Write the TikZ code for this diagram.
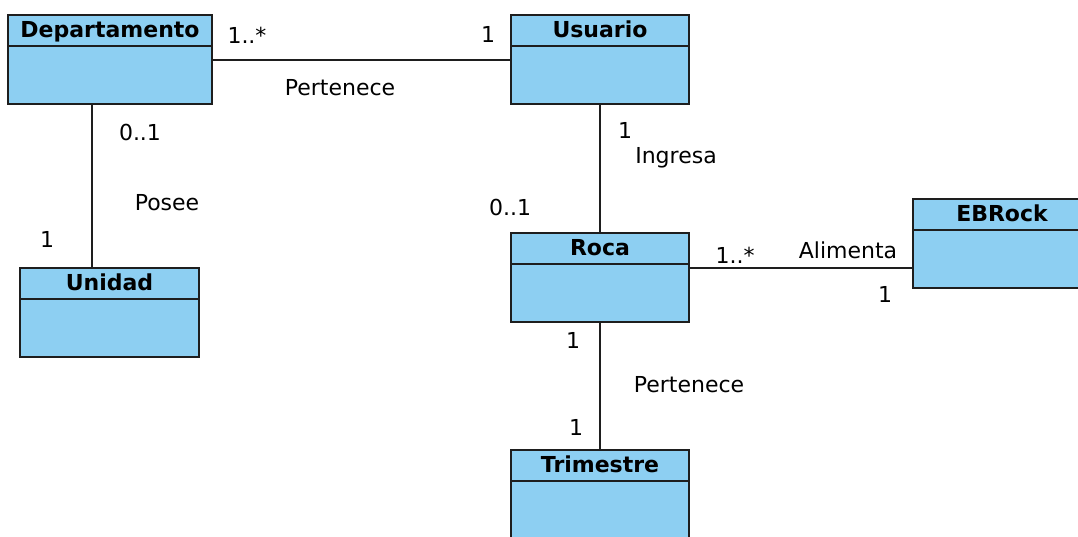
\documentclass[tikz,border=0pt]{standalone}
\usepackage{fontspec}
\setmainfont{DejaVu Sans}
\definecolor{celeste}{HTML}{8DCFF2}
\definecolor{borde}{HTML}{1E1E1E}
\tikzset{
  clase/.style={draw=borde,line width=2pt,fill=celeste,minimum width=178pt,minimum height=89pt,inner sep=0pt},
  titulo/.style={anchor=base,font=\bfseries\fontsize{22}{26}\selectfont,inner sep=0pt},
  etiqueta/.style={anchor=base,font=\fontsize{22}{26}\selectfont,inner sep=0pt},
  enlace/.style={draw=borde,line width=2pt}
}
% linea bajo el nombre de la clase
\newcommand{\divisor}[1]{\draw[enlace] ([yshift=-32pt]#1.north west) -- ([yshift=-32pt]#1.north east);}
\begin{document}
\begin{tikzpicture}[x=1pt,y=-1pt]
        \useasboundingbox (0,0) rectangle (1078,536);
        \clip (0,0) rectangle (1078,536);
        % clases
        \node[clase,minimum width=204pt] (departamento) at (110,59.5) {};
        \node[clase] (usuario) at (600,59.5) {};
        \node[clase,minimum width=179pt] (unidad) at (109.5,312.5) {};
        \node[clase] (roca) at (600,277.5) {};
        \node[clase] (ebrock) at (1002,243.5) {};
        \node[clase] (trimestre) at (600,494.5) {};
        \foreach \c in {departamento,usuario,unidad,roca,ebrock,trimestre} {\divisor{\c}}
        \node[titulo] (tdepartamento) at ([yshift=-23.5pt]departamento.north) {Departamento};
        \node[titulo] (tusuario) at ([yshift=-23.5pt]usuario.north) {Usuario};
        \node[titulo] (tunidad) at ([yshift=-23.5pt]unidad.north) {Unidad};
        \node[titulo] (troca) at ([yshift=-23.5pt]roca.north) {Roca};
        \node[titulo] (tebrock) at ([yshift=-23.5pt]ebrock.north) {EBRock};
        \node[titulo] (ttrimestre) at ([yshift=-23.5pt]trimestre.north) {Trimestre};
        % asociaciones
        \draw[enlace] (departamento.east) -- (departamento.east -| usuario.west);
        \draw[enlace] ([xshift=-18pt]departamento.south) -- ([xshift=-18pt]departamento.south |- unidad.north);
        \draw[enlace] (usuario.south) -- (roca.north);
        \draw[enlace] ([yshift=9.5pt]roca.east) -- ([yshift=9.5pt]roca.east -| ebrock.west);
        \draw[enlace] (roca.south) -- (trimestre.north);
        % multiplicidades y nombres
        \node[etiqueta] (m1) at (247,43) {1..*};
        \node[etiqueta] (m2) at (488,42) {1};
        \node[etiqueta] (n1) at (340,95) {Pertenece};
        \node[etiqueta] (m3) at (140,140) {0..1};
        \node[etiqueta] (n2) at (167,210) {Posee};
        \node[etiqueta] (m4) at (47,247) {1};
        \node[etiqueta] (m5) at (625,138) {1};
        \node[etiqueta] (n3) at (676,163) {Ingresa};
        \node[etiqueta] (m6) at (510,215) {0..1};
        \node[etiqueta] (m7) at (735,263) {1..*};
        \node[etiqueta] (n4) at (848,258) {Alimenta};
        \node[etiqueta] (m8) at (885,302) {1};
        \node[etiqueta] (m9) at (573,348) {1};
        \node[etiqueta] (n5) at (689,392) {Pertenece};
        \node[etiqueta] (m10) at (576,435) {1};
    \end{tikzpicture}
\end{document}
